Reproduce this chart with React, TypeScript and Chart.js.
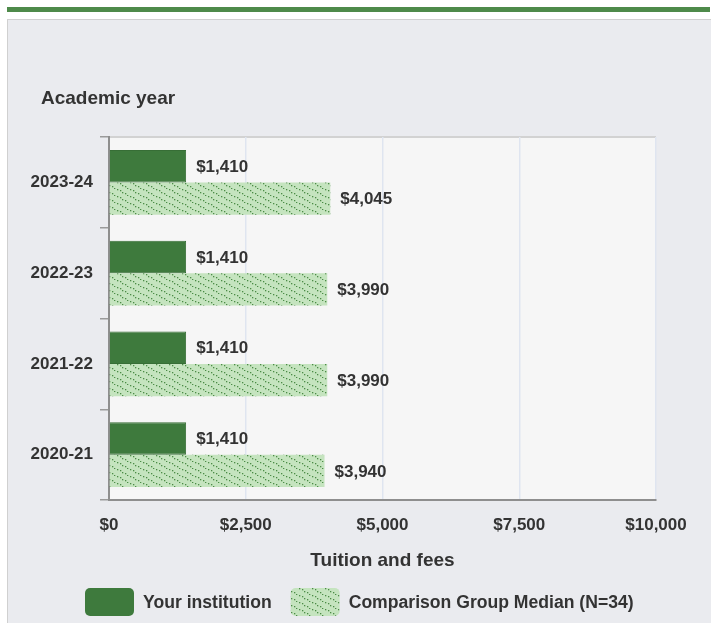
import React, { useEffect, useRef } from "react";
import { Chart, registerables } from "chart.js";

Chart.register(...registerables);

const years = ["2023-24", "2022-23", "2021-22", "2020-21"];
const yourInstitution = [1410, 1410, 1410, 1410];
const comparisonMedian = [4045, 3990, 3990, 3940];
const xTicks = [0, 2500, 5000, 7500, 10000];
const seriesNames = ["Your institution", "Comparison Group Median (N=34)"];
const xTitle = "Tuition and fees";
const yTitle = "Academic year";

const FONT = "'Liberation Sans', Arial, Helvetica, sans-serif";
const TEXT = "#333333";
const DARK = "#3e7a3d";
const LIGHT = "#c5e4bf";
const DOT = "#4c8c47";

function makePattern(): CanvasPattern | string {
  const W = 13;
  const H = 7;
  const c = document.createElement("canvas");
  c.width = W;
  c.height = H;
  const g = c.getContext("2d");
  if (!g) return LIGHT;
  g.fillStyle = LIGHT;
  g.fillRect(0, 0, W, H);
  g.fillStyle = DOT;
  const n = 5;
  for (let i = 0; i < n; i++) {
    const x = (i * W) / n;
    const y = (i * H) / n;
    g.fillRect(Math.round(x), Math.round(y), 1.3, 1.3);
  }
  const p = g.createPattern(c, "repeat");
  return p || LIGHT;
}

const fmt = (v: number) => "$" + v.toLocaleString("en-US");

export default function App() {
  const ref = useRef<HTMLCanvasElement | null>(null);

  useEffect(() => {
    if (!ref.current) return;
    const pattern = makePattern();

    const bgPlugin = {
      id: "plotBg",
      beforeDraw(chart: any) {
        const { ctx, chartArea: a } = chart;
        ctx.save();
        ctx.fillStyle = "#f6f6f6";
        ctx.fillRect(a.left, a.top, a.right - a.left, a.bottom - a.top);
        ctx.strokeStyle = "#d2d2d2";
        ctx.lineWidth = 2;
        ctx.beginPath();
        ctx.moveTo(a.left, a.top);
        ctx.lineTo(a.right, a.top);
        ctx.stroke();
        ctx.restore();
      },
    };

    const labelsPlugin = {
      id: "valueLabels",
      afterDatasetsDraw(chart: any) {
        const { ctx } = chart;
        ctx.save();
        ctx.font = `bold 17px ${FONT}`;
        ctx.fillStyle = TEXT;
        ctx.textAlign = "left";
        ctx.textBaseline = "middle";
        chart.data.datasets.forEach((ds: any, di: number) => {
          const meta = chart.getDatasetMeta(di);
          meta.data.forEach((el: any, i: number) => {
            ctx.fillText(fmt(ds.data[i]), el.x + 10, el.y + 1);
          });
        });
        ctx.restore();
      },
    };

    const decorPlugin = {
      id: "decor",
      afterDraw(chart: any) {
        const { ctx } = chart;
        ctx.save();
        ctx.font = `bold 19px ${FONT}`;
        ctx.fillStyle = TEXT;
        ctx.textBaseline = "alphabetic";
        ctx.textAlign = "left";
        ctx.fillText(yTitle, 41, 104);
        let x = 85;
        const top = 588;
        const bw = 49;
        const bh = 28;
        ctx.font = `bold 17.6px ${FONT}`;
        chart.data.datasets.forEach((ds: any) => {
          ctx.fillStyle = ds.backgroundColor;
          ctx.beginPath();
          (ctx as any).roundRect(x, top, bw, bh, 5);
          ctx.fill();
          ctx.fillStyle = TEXT;
          ctx.textBaseline = "middle";
          const tx = x + bw + 9;
          ctx.fillText(ds.label, tx, top + bh / 2 + 1);
          x = tx + ctx.measureText(ds.label).width + 19;
        });
        ctx.restore();
      },
    };

    const chart = new Chart(ref.current, {
      type: "bar",
      data: {
        labels: years,
        datasets: [
          {
            label: seriesNames[0],
            data: yourInstitution,
            backgroundColor: DARK,
            borderColor: "#376e36",
            borderWidth: 1,
            categoryPercentage: 0.714,
            barPercentage: 1,
          },
          {
            label: seriesNames[1],
            data: comparisonMedian,
            backgroundColor: pattern as any,
            borderWidth: 0,
            categoryPercentage: 0.714,
            barPercentage: 1,
          },
        ],
      },
      options: {
        indexAxis: "y",
        animation: false,
        responsive: false,
        maintainAspectRatio: false,
        layout: { padding: { top: 137, right: 55, left: 0, bottom: 47 } },
        plugins: {
          legend: { display: false },
          tooltip: { enabled: false },
          title: { display: false },
        },
        scales: {
          x: {
            min: 0,
            max: 10000,
            afterBuildTicks(scale: any) {
              scale.ticks = xTicks.map((v) => ({ value: v }));
            },
            afterFit(scale: any) {
              scale.height = 76;
            },
            grid: {
              color: "#dfe5f0",
              lineWidth: 1.5,
              drawTicks: false,
            },
            border: { display: true, color: "#8e8e8e", width: 2 },
            ticks: {
              padding: 15,
              color: TEXT,
              font: { family: FONT, size: 17, weight: "bold" },
              callback: (v: any) => fmt(Number(v)),
            },
            title: {
              display: true,
              text: xTitle,
              color: TEXT,
              font: { family: FONT, size: 19, weight: "bold" },
              padding: { top: 4, bottom: 4 },
            },
          },
          y: {
            afterFit(scale: any) {
              scale.width = 109;
            },
            grid: {
              offset: true,
              drawOnChartArea: false,
              drawTicks: true,
              tickLength: 9,
              color: "#9a9a9a",
              lineWidth: 1.5,
            },
            border: { display: true, color: "#8e8e8e", width: 2 },
            ticks: {
              padding: 7,
              color: TEXT,
              font: { family: FONT, size: 17, weight: "bold" },
            },
          },
        },
      },
      plugins: [bgPlugin, labelsPlugin, decorPlugin],
    });

    return () => chart.destroy();
  }, []);

  return (
    <div style={{ position: "absolute", left: 0, top: 0, width: 711, height: 623, overflow: "hidden" }}>
      <div style={{ position: "absolute", left: 7, top: 7, width: 703, height: 5, background: "#4e8a4a" }} />
      <div
        style={{
          position: "absolute",
          left: 7,
          top: 19,
          width: 720,
          height: 640,
          background: "#eaebef",
          borderTop: "1px solid #d0d0d0",
          borderLeft: "1px solid #d0d0d0",
        }}
      />
      <canvas ref={ref} width={711} height={623} style={{ position: "absolute", left: 0, top: 0, width: 711, height: 623 }} />
    </div>
  );
}
